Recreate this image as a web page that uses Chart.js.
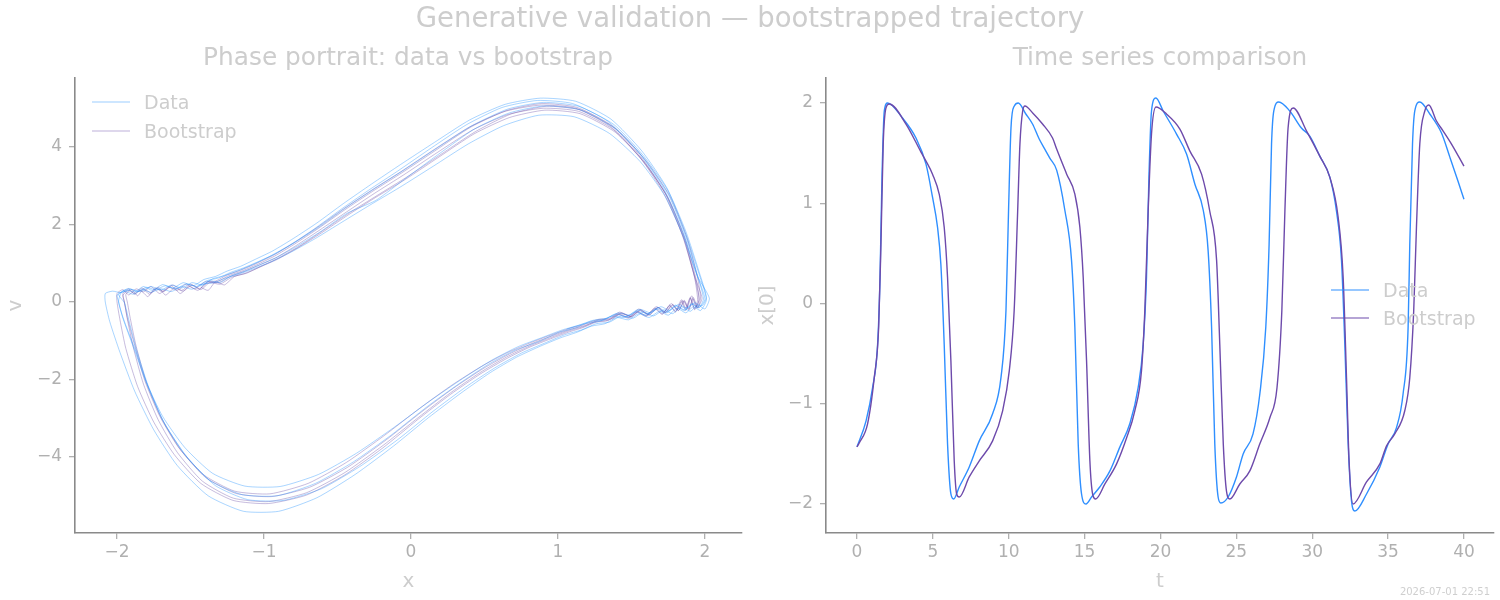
<!DOCTYPE html>
<html>
<head>
<meta charset="utf-8">
<script src="https://cdn.jsdelivr.net/npm/chart.js@4.4.1/dist/chart.umd.min.js"></script>
<style>
  body { margin: 0; background: #fff; font-family: 'DejaVu Sans', sans-serif; }
  #wrap { position: relative; width: 1500px; height: 600px; overflow: hidden; }
  canvas { position: absolute; top: 0; }
  .lbl { position: absolute; color: #cdcdcd; white-space: nowrap; transform: translate(-50%, -50%); line-height: 1; }
  .leg { position: absolute; display: flex; align-items: center; color: #cdcdcd; font-size: 19px; line-height: 1; transform: translateY(-50%); white-space: nowrap; }
  .leg i { display: inline-block; width: 38px; height: 0; border-top: 1px solid; margin-right: 14px; }
  .stamp { position: absolute; right: 10px; top: 586px; font-size: 10px; color: #cfcfcf; }
</style>
</head>
<body>
<div id="wrap">
  <canvas id="phase" width="750" height="600" style="left:0"></canvas>
  <canvas id="series" width="750" height="600" style="left:750px"></canvas>

  <div class="lbl" style="left:750px;top:18px;font-size:27.5px">Generative validation — bootstrapped trajectory</div>
  <div class="lbl" style="left:408px;top:57px;font-size:24.8px">Phase portrait: data vs bootstrap</div>
  <div class="lbl" style="left:1160px;top:57px;font-size:24.8px">Time series comparison</div>

  <div class="leg" style="left:92px;top:102px"><i style="border-color:rgba(30,144,255,0.45)"></i>Data</div>
  <div class="leg" style="left:92px;top:131px"><i style="border-color:rgba(106,76,168,0.45)"></i>Bootstrap</div>
  <div class="leg" style="left:1331px;top:290px"><i style="border-color:#2f8fff"></i>Data</div>
  <div class="leg" style="left:1331px;top:318px"><i style="border-color:#6d4aab"></i>Bootstrap</div>

  <div class="stamp">2026-07-01 22:51</div>
</div>

<script>
/* ============================
   Datos: retrato de fase (x, v)
============================ */
const PHASE_DATA_LAP_1 = [
  [-1.43,0.40],[-1.37,0.55],[-1.30,0.50],[-1.22,0.68],[-1.13,0.80],[-1.03,0.96],[-0.91,1.16],[-0.77,1.45],[-0.61,1.83],[-0.43,2.30],[-0.24,2.62],[-0.04,3.18],[0.19,3.82],[0.43,4.46],[0.67,4.88],[0.91,5.06],[1.15,4.96],[1.39,4.47],[1.59,3.68],[1.75,2.78],[1.87,1.68],[1.95,0.68],[1.99,0.08],
  [1.96,-0.14],[1.91,-0.04],[1.86,-0.20],[1.80,-0.08],[1.74,-0.26],[1.68,-0.14],[1.61,-0.31],[1.54,-0.20],[1.47,-0.38],[1.39,-0.31],[1.31,-0.47],[1.22,-0.50],[1.12,-0.67],[1.01,-0.78],[0.87,-1.02],[0.71,-1.24],[0.53,-1.60],[0.33,-2.10],[0.11,-2.70],[-0.13,-3.42],[-0.39,-4.12],[-0.65,-4.68],[-0.91,-5.00],[-1.15,-4.97],[-1.37,-4.60],[-1.55,-3.88],[-1.69,-3.04],[-1.79,-2.14],[-1.87,-1.20],[-1.92,-0.46],[-1.95,-0.02]
]
const PHASE_DATA_LAP_2 = [
  [-1.99,0.20],[-1.94,0.31],[-1.88,0.26],[-1.82,0.40],[-1.76,0.30],[-1.69,0.45],[-1.62,0.36],[-1.55,0.50],[-1.48,0.42],[-1.41,0.58],[-1.33,0.66],[-1.25,0.80],[-1.16,0.92],[-1.06,1.10],[-0.94,1.32],[-0.80,1.64],[-0.64,2.04],[-0.46,2.54],[-0.27,3.04],[-0.07,3.55],[0.16,4.12],[0.40,4.70],[0.64,5.10],[0.88,5.26],[1.12,5.18],[1.36,4.72],[1.57,3.90],[1.74,2.95],[1.87,1.82],[1.96,0.78],[2.01,0.12],
  [1.98,-0.10],[1.93,-0.02],[1.88,-0.16],[1.82,-0.06],[1.76,-0.22],[1.70,-0.12],[1.63,-0.28],[1.56,-0.19],[1.49,-0.34],[1.41,-0.28],[1.33,-0.42],[1.24,-0.47],[1.14,-0.60],[1.03,-0.72],[0.89,-0.92],[0.73,-1.15],[0.55,-1.50],[0.35,-1.98],[0.13,-2.55],[-0.11,-3.22],[-0.37,-3.90],[-0.63,-4.45],[-0.89,-4.76],[-1.13,-4.75],[-1.35,-4.42],[-1.54,-3.75],[-1.69,-2.95],[-1.80,-2.08],[-1.89,-1.15],[-1.96,-0.42],[-1.99,0.02]
]
const PHASE_DATA_LAP_3 = [
  [-2.00,0.18],[-1.95,0.28],[-1.89,0.20],[-1.83,0.32],[-1.77,0.25],[-1.70,0.34],[-1.63,0.27],[-1.56,0.40],[-1.49,0.33],[-1.42,0.46],[-1.34,0.50],[-1.26,0.62],[-1.17,0.72],[-1.07,0.86],[-0.95,1.04],[-0.81,1.30],[-0.65,1.64],[-0.47,2.06],[-0.28,2.50],[-0.08,2.95],[0.15,3.50],[0.39,4.08],[0.63,4.55],[0.87,4.82],[1.11,4.78],[1.35,4.35],[1.56,3.62],[1.73,2.72],[1.86,1.62],[1.95,0.66],[2.03,0.10],
  [2.00,-0.18],[1.95,-0.08],[1.90,-0.24],[1.84,-0.12],[1.78,-0.30],[1.72,-0.20],[1.65,-0.36],[1.58,-0.26],[1.51,-0.42],[1.43,-0.36],[1.35,-0.52],[1.26,-0.56],[1.16,-0.72],[1.05,-0.84],[0.91,-1.06],[0.75,-1.32],[0.57,-1.70],[0.37,-2.20],[0.15,-2.82],[-0.09,-3.55],[-0.35,-4.25],[-0.61,-4.82],[-0.87,-5.12],[-1.11,-5.10],[-1.33,-4.74],[-1.52,-4.02],[-1.67,-3.18],[-1.78,-2.28],[-1.87,-1.30],[-1.95,-0.50],[-1.99,0.00]
]
const PHASE_DATA_LAP_4 = [
  [-1.97,0.26],[-1.92,0.35],[-1.86,0.27],[-1.80,0.38],[-1.74,0.32],[-1.67,0.42],[-1.60,0.34],[-1.53,0.47],[-1.46,0.40],[-1.39,0.55],[-1.31,0.62],[-1.23,0.76],[-1.14,0.88],[-1.04,1.04],[-0.92,1.25],[-0.78,1.56],[-0.62,1.95],[-0.44,2.44],[-0.25,2.92],[-0.05,3.40],[0.18,3.98],[0.42,4.56],[0.66,4.98],[0.90,5.15],[1.14,5.05],[1.38,4.58],[1.58,3.78],[1.75,2.86],[1.87,1.74],[1.96,0.72],[2.01,0.06],
  [1.97,-0.22],[1.92,-0.12],[1.87,-0.28],[1.81,-0.16],[1.75,-0.34],[1.69,-0.24],[1.62,-0.40],[1.55,-0.30],[1.48,-0.46],[1.40,-0.40],[1.32,-0.56],[1.23,-0.62],[1.13,-0.78],[1.02,-0.92],[0.88,-1.14],[0.72,-1.42],[0.54,-1.82],[0.34,-2.35],[0.12,-2.98],[-0.12,-3.72],[-0.38,-4.45],[-0.64,-5.05],[-0.90,-5.40],[-1.14,-5.40],[-1.38,-5.00],[-1.59,-4.22],[-1.75,-3.30],[-1.88,-2.30],[-1.98,-1.30],[-2.05,-0.50],[-2.08,0.00]
]
const PHASE_DATA_LAP_5 = [
  [-2.08,0.22],[-2.03,0.28],[-1.97,0.24],[-1.91,0.33],[-1.84,0.27],[-1.77,0.40],[-1.70,0.31],[-1.63,0.44],[-1.56,0.36],[-1.49,0.50],[-1.42,0.44],[-1.35,0.60],[-1.27,0.68],[-1.18,0.80],[-1.08,0.96],[-0.96,1.18],[-0.82,1.48],[-0.66,1.88],[-0.48,2.38],[-0.29,2.88],[-0.09,3.38],[0.14,3.98],[0.38,4.58],[0.62,5.02],[0.86,5.20],[1.10,5.12],[1.34,4.66],[1.55,3.86],[1.72,2.92],[1.85,1.80],[1.94,0.76],[2.00,0.08],
  [1.96,-0.15],[1.91,-0.06],[1.86,-0.22],[1.80,-0.10],[1.74,-0.28],[1.67,-0.18],[1.60,-0.34],[1.53,-0.25],[1.45,-0.40],[1.37,-0.36],[1.28,-0.50],[1.18,-0.56],[1.06,-0.70]
]

const PHASE_BOOT_LAP_1 = [
  [-1.43,0.38],[-1.38,0.30],[-1.33,0.52],[-1.27,0.44],[-1.20,0.66],[-1.12,0.74],[-1.02,0.92],[-0.90,1.14],[-0.76,1.44],[-0.60,1.84],[-0.42,2.30],[-0.23,2.75],[-0.03,3.22],[0.20,3.80],[0.44,4.40],[0.68,4.85],[0.92,5.05],[1.16,4.95],[1.40,4.45],[1.60,3.64],[1.76,2.74],[1.88,1.64],[1.95,0.62],[1.97,0.10],
  [1.95,-0.16],[1.92,0.08],[1.89,-0.20],[1.86,0.02],[1.82,-0.22],[1.78,-0.06],[1.73,-0.27],[1.68,-0.14],[1.62,-0.33],[1.56,-0.20],[1.50,-0.38],[1.43,-0.28],[1.36,-0.44],[1.28,-0.46],[1.19,-0.60],[1.09,-0.70],[0.97,-0.86],[0.83,-1.06],[0.67,-1.34],[0.49,-1.72],[0.29,-2.22],[0.07,-2.84],[-0.17,-3.56],[-0.43,-4.26],[-0.69,-4.78],[-0.95,-5.02],[-1.19,-4.94],[-1.40,-4.52],[-1.57,-3.80],[-1.70,-2.98],[-1.80,-2.08],[-1.87,-1.14],[-1.91,-0.42],[-1.93,0.00]
]
const PHASE_BOOT_LAP_2 = [
  [-1.94,0.20],[-1.90,0.32],[-1.86,0.16],[-1.82,0.34],[-1.77,0.24],[-1.72,0.38],[-1.67,0.18],[-1.61,0.36],[-1.55,0.28],[-1.49,0.44],[-1.43,0.32],[-1.37,0.50],[-1.30,0.46],[-1.22,0.64],[-1.13,0.74],[-1.03,0.90],[-0.91,1.10],[-0.77,1.40],[-0.61,1.78],[-0.43,2.24],[-0.24,2.70],[-0.04,3.16],[0.19,3.74],[0.43,4.34],[0.67,4.76],[0.91,4.95],[1.15,4.86],[1.39,4.38],[1.59,3.58],[1.75,2.68],[1.87,1.58],[1.94,0.58],[1.96,0.06],
  [1.93,-0.20],[1.90,0.12],[1.87,-0.16],[1.84,0.06],[1.80,-0.24],[1.76,-0.10],[1.71,-0.30],[1.66,-0.16],[1.60,-0.35],[1.54,-0.24],[1.48,-0.40],[1.41,-0.30],[1.34,-0.47],[1.26,-0.50],[1.17,-0.64],[1.07,-0.75],[0.95,-0.92],[0.81,-1.13],[0.65,-1.42],[0.47,-1.82],[0.27,-2.34],[0.05,-2.98],[-0.19,-3.70],[-0.45,-4.40],[-0.71,-4.92],[-0.97,-5.15],[-1.21,-5.06],[-1.42,-4.62],[-1.59,-3.88],[-1.72,-3.04],[-1.82,-2.12],[-1.89,-1.16],[-1.93,-0.44],[-1.95,0.00]
]
const PHASE_BOOT_LAP_3 = [
  [-1.96,0.22],[-1.92,0.34],[-1.88,0.20],[-1.84,0.30],[-1.79,0.14],[-1.74,0.36],[-1.69,0.26],[-1.63,0.42],[-1.57,0.22],[-1.51,0.40],[-1.45,0.30],[-1.39,0.48],[-1.32,0.52],[-1.24,0.68],[-1.15,0.80],[-1.05,0.96],[-0.93,1.18],[-0.79,1.50],[-0.63,1.90],[-0.45,2.38],[-0.26,2.86],[-0.06,3.34],[0.17,3.92],[0.41,4.52],[0.65,4.94],[0.89,5.12],[1.13,5.02],[1.37,4.54],[1.57,3.72],[1.73,2.80],[1.85,1.68],[1.93,0.64],[1.96,0.08],
  [1.94,-0.14],[1.91,0.16],[1.88,-0.12],[1.85,0.04],[1.81,-0.20],[1.77,-0.04],[1.72,-0.26],[1.67,-0.12],[1.61,-0.30],[1.55,-0.18],[1.49,-0.36],[1.42,-0.26],[1.35,-0.42],[1.27,-0.45],[1.18,-0.58],[1.08,-0.68],[0.96,-0.84],[0.82,-1.04],[0.66,-1.30],[0.48,-1.66],[0.28,-2.14],[0.06,-2.74],[-0.18,-3.44],[-0.44,-4.14],[-0.70,-4.68],[-0.96,-4.95],[-1.20,-4.88],[-1.41,-4.46],[-1.58,-3.76],[-1.71,-2.94],[-1.81,-2.04],[-1.88,-1.12],[-1.93,-0.40],[-1.95,0.00]
]
const PHASE_BOOT_LAP_4 = [
  [-1.96,0.18],[-1.92,0.30],[-1.88,0.22],[-1.83,0.36],[-1.78,0.20],[-1.73,0.34],[-1.68,0.28],[-1.62,0.44],[-1.56,0.30],[-1.50,0.46],[-1.44,0.34],[-1.38,0.52],[-1.31,0.50],[-1.23,0.66],[-1.14,0.78],[-1.04,0.94],[-0.92,1.14],[-0.78,1.46],[-0.62,1.86],[-0.44,2.32],[-0.25,2.80],[-0.05,3.28],[0.18,3.86],[0.42,4.44],[0.66,4.84],[0.90,5.00],[1.14,4.92],[1.38,4.44],[1.58,3.64],[1.74,2.74],[1.86,1.64],[1.93,0.62],[1.95,0.06],
  [1.93,-0.18],[1.90,0.10],[1.87,-0.22],[1.84,0.02],[1.80,-0.26],[1.76,-0.08],[1.71,-0.32],[1.66,-0.18],[1.60,-0.37],[1.54,-0.26],[1.48,-0.42],[1.41,-0.32],[1.34,-0.48],[1.26,-0.52],[1.17,-0.66],[1.07,-0.78],[0.95,-0.95],[0.81,-1.16],[0.65,-1.46],[0.47,-1.86],[0.27,-2.38],[0.05,-3.02],[-0.19,-3.76],[-0.45,-4.46],[-0.71,-4.98],[-0.97,-5.20],[-1.21,-5.12],[-1.43,-4.68],[-1.61,-3.94],[-1.75,-3.10],[-1.86,-2.18],[-1.94,-1.20],[-1.98,-0.46],[-2.00,0.00]
]
const PHASE_BOOT_LAP_5 = [
  [-2.00,0.22],[-1.96,0.32],[-1.92,0.18],[-1.87,0.34],[-1.82,0.26],[-1.77,0.40],[-1.71,0.22],[-1.65,0.38],[-1.59,0.30],[-1.53,0.46],[-1.47,0.34],[-1.40,0.52],[-1.33,0.54],[-1.25,0.70],[-1.16,0.82],[-1.06,0.98],[-0.94,1.20],[-0.80,1.52],[-0.64,1.92],[-0.46,2.40],[-0.27,2.88],[-0.07,3.36],[0.16,3.94],[0.40,4.52],[0.64,4.92],[0.88,5.08],[1.12,5.00],[1.36,4.52],[1.56,3.72],[1.72,2.80],[1.85,1.70],[1.93,0.66],[1.98,0.10],
  [1.95,-0.14],[1.92,0.12],[1.89,-0.18],[1.86,0.04],[1.82,-0.22],[1.78,-0.08],[1.73,-0.28],[1.68,-0.14],[1.62,-0.34],[1.56,-0.22],[1.50,-0.38],[1.43,-0.30],[1.37,-0.44]
]

/* ============================
   Datos: serie temporal x[0](t)
============================ */
const TS_T_DATA = [0,0.6,1.03,1.36,1.52,1.65,1.8,2.02,3.0,3.89,4.55,4.98,5.31,5.53,5.75,5.97,6.19,6.37,6.74,7.4,8.06,8.94,9.49,9.82,9.99,10.15,10.37,10.63,11.13,11.57,12.01,12.45,12.71,13.16,13.7,14.14,14.36,14.58,14.8,15.09,15.46,16.0,16.67,17.33,17.98,18.53,18.86,19.08,19.24,19.41,19.7,20.18,21.06,21.72,22.27,22.82,23.14,23.37,23.58,23.8,23.98,24.46,25.01,25.45,26.1,26.55,26.94,27.16,27.32,27.47,27.8,28.52,29.29,29.84,30.5,31.16,31.6,31.93,32.15,32.37,32.59,32.81,33.58,34.46,35.0,35.55,35.99,36.32,36.43,36.61,36.76,37.09,37.75,38.52,39.07,39.61,40.0]
const TS_X_DATA = [-1.43,-1.17,-0.84,-0.41,0.26,1.26,1.92,2.0,1.85,1.65,1.39,1.06,0.76,0.39,-0.41,-1.40,-1.90,-1.95,-1.83,-1.63,-1.37,-1.10,-0.74,-0.07,0.93,1.75,1.97,2.0,1.89,1.79,1.64,1.52,1.45,1.33,0.93,0.43,-0.24,-1.40,-1.90,-2.0,-1.93,-1.83,-1.67,-1.43,-1.20,-0.84,-0.41,0.26,1.26,1.92,2.05,1.92,1.69,1.49,1.19,0.93,0.53,-0.24,-1.40,-1.93,-1.99,-1.93,-1.73,-1.50,-1.30,-0.90,-0.24,0.59,1.59,1.92,2.01,1.92,1.75,1.67,1.47,1.26,0.92,0.43,-0.41,-1.40,-1.97,-2.07,-1.90,-1.63,-1.40,-1.24,-0.90,-0.24,0.59,1.59,1.92,2.01,1.89,1.70,1.46,1.22,1.04]
const TS_T_BOOT = [0,0.15,0.7,1.14,1.43,1.58,1.73,1.91,2.13,3.23,4.22,4.55,4.98,5.42,5.75,5.97,6.19,6.41,6.57,6.74,7.4,8.06,8.94,9.6,10.04,10.36,10.59,10.74,10.92,11.07,11.58,12.23,12.89,13.16,13.82,14.36,14.69,14.91,15.13,15.35,15.53,15.73,16.34,17.11,17.77,18.31,18.75,18.97,19.19,19.41,19.7,20.4,21.28,21.94,22.71,23.25,23.7,23.91,24.14,24.35,24.57,25.23,25.89,26.55,27.21,27.68,28.0,28.2,28.41,28.75,29.63,30.5,31.16,31.71,32.04,32.26,32.43,32.69,33.58,34.46,34.9,35.44,36.1,36.43,36.69,36.87,37.09,37.42,37.68,38.19,38.63,39.18,40.0]
const TS_X_BOOT = [-1.43,-1.39,-1.20,-0.74,-0.24,0.59,1.59,1.95,1.99,1.79,1.51,1.42,1.29,1.09,0.76,0.26,-0.57,-1.57,-1.90,-1.93,-1.73,-1.57,-1.37,-1.07,-0.67,-0.07,0.92,1.59,1.92,1.97,1.90,1.79,1.65,1.54,1.29,1.09,0.76,0.26,-0.57,-1.57,-1.90,-1.95,-1.80,-1.60,-1.34,-1.07,-0.67,-0.07,0.92,1.69,1.96,1.89,1.74,1.52,1.29,0.92,0.43,-0.41,-1.40,-1.87,-1.95,-1.80,-1.67,-1.40,-1.14,-0.84,-0.07,0.92,1.75,1.95,1.72,1.47,1.26,0.86,0.26,-0.74,-1.57,-2.0,-1.78,-1.60,-1.42,-1.30,-1.07,-0.74,-0.07,0.76,1.59,1.92,1.98,1.82,1.72,1.59,1.37]

/* ============================
   Ticks
============================ */
const PHASE_X_TICKS = [-2, -1, 0, 1, 2]
const PHASE_V_TICKS = [-4, -2, 0, 2, 4]
const TS_T_TICKS = [0, 5, 10, 15, 20, 25, 30, 35, 40]
const TS_X_TICKS = [-2, -1, 0, 1, 2]

const PHASE_DATA_LAPS = [PHASE_DATA_LAP_1, PHASE_DATA_LAP_2, PHASE_DATA_LAP_3, PHASE_DATA_LAP_4, PHASE_DATA_LAP_5]
const PHASE_BOOT_LAPS = [PHASE_BOOT_LAP_1, PHASE_BOOT_LAP_2, PHASE_BOOT_LAP_3, PHASE_BOOT_LAP_4, PHASE_BOOT_LAP_5]

const TICK_COLOR = '#b0b0b0'
const SPINE_COLOR = '#8a8a8a'
const LABEL_COLOR = '#cdcdcd'
const FONT = 'DejaVu Sans'

const toPoints = laps => laps.flat().map(([x, v]) => ({ x, y: v }))
const zip = (ts, xs) => ts.map((t, i) => ({ x: t, y: xs[i] }))
const fmt = v => String(v).replace('-', '\u2212')

function makeAxis(ticks, min, max, title, horizontal, boxSize, titlePad) {
    return {
        type: 'linear',
        min, max,
        afterBuildTicks: s => { s.ticks = ticks.map(value => ({ value })) },
        afterFit: s => { if (horizontal) s.height = boxSize; else s.width = boxSize },
        grid: { drawOnChartArea: false, drawTicks: true, tickLength: 6, color: TICK_COLOR, lineWidth: 1.3 },
        border: { display: true, color: SPINE_COLOR, width: 1.6 },
        ticks: {
            color: TICK_COLOR,
            font: { family: FONT, size: 17 },
            padding: horizontal ? 3 : 7,
            maxRotation: 0,
            callback: v => fmt(v)
        },
        title: {
            display: true,
            text: title,
            color: LABEL_COLOR,
            font: { family: FONT, size: 20 },
            padding: horizontal ? { bottom: titlePad } : { top: titlePad }
        }
    }
}

const baseOptions = (padding, scales) => ({
    responsive: false,
    animation: false,
    devicePixelRatio: 1,
    layout: { padding },
    plugins: { legend: { display: false }, tooltip: { enabled: false } },
    elements: { point: { radius: 0 } },
    scales
})

// ============================
// Retrato de fase
// ============================
new Chart(document.getElementById('phase'), {
    type: 'scatter',
    data: {
        datasets: [
            { label: 'Data', data: toPoints(PHASE_DATA_LAPS), showLine: true, borderColor: 'rgba(30,144,255,0.42)', borderWidth: 0.9, tension: 0.2 },
            { label: 'Bootstrap', data: toPoints(PHASE_BOOT_LAPS), showLine: true, borderColor: 'rgba(106,76,168,0.42)', borderWidth: 0.9, tension: 0.2 }
        ]
    },
    options: baseOptions({ top: 78, right: 8, left: 0, bottom: 0 }, {
        x: makeAxis(PHASE_X_TICKS, -2.286, 2.252, 'x', true, 67, 6),
        y: makeAxis(PHASE_V_TICKS, -5.96, 5.78, 'v', false, 75, 4)
    })
})

// ============================
// Serie temporal
// ============================
new Chart(document.getElementById('series'), {
    type: 'scatter',
    data: {
        datasets: [
            { label: 'Data', data: zip(TS_T_DATA, TS_X_DATA), showLine: true, borderColor: '#2f8fff', borderWidth: 1.4, cubicInterpolationMode: 'monotone', order: 2 },
            { label: 'Bootstrap', data: zip(TS_T_BOOT, TS_X_BOOT), showLine: true, borderColor: '#6d4aab', borderWidth: 1.4, cubicInterpolationMode: 'monotone', order: 1 }
        ]
    },
    options: baseOptions({ top: 78, right: 6, left: 0, bottom: 0 }, {
        x: makeAxis(TS_T_TICKS, -2.04, 41.98, 't', true, 67, 6),
        y: makeAxis(TS_X_TICKS, -2.289, 2.249, 'x[0]', false, 76, 6)
    })
})
</script>
</body>
</html>
